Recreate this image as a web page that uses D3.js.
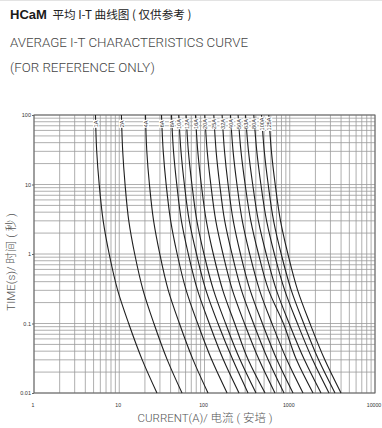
<!DOCTYPE html>
<html><head><meta charset="utf-8">
<script src="https://cdn.jsdelivr.net/npm/d3@7"></script>
<style>body{margin:0;background:#fff}svg{display:block}</style>
</head><body><svg id="c" width="382" height="428"></svg>
<script>
const ratings = ["1A","2A","4A","6A","8A","10A","12A","16A","20A","25A","32A","40A","50A","63A","80A","100A","125A"];
const times = [100, 30, 10, 3, 1, 0.3, 0.1, 0.03, 0.01];
const currents = [
  [5.26, 5.44, 5.82, 6.48, 7.62, 9.59, 12.9, 18.6, 27.7],
  [10.6, 10.98, 11.7, 12.94, 15.18, 19.05, 25.5, 36.6, 54.5],
  [20.3, 21.05, 22.6, 25.3, 29.9, 37.6, 50.8, 73.5, 110],
  [31.3, 32.8, 35.5, 40.1, 47.8, 61.0, 83.2, 121.5, 184],
  [41.0, 43.3, 47.3, 53.6, 64.6, 83.0, 113.8, 166.6, 254],
  [49.9, 53.0, 58.1, 66.3, 80.6, 104.1, 143.9, 215, 324],
  [60.8, 64.7, 71.2, 81.4, 98.6, 127.8, 176.8, 261.6, 402],
  [78.4, 83.4, 91.7, 105, 126.8, 164, 226, 325.5, 513],
  [100.8, 107.6, 118.6, 135.7, 164.8, 213, 294.6, 437, 671],
  [128.6, 136.9, 150.8, 172.6, 210.2, 271.6, 375.7, 557.4, 856],
  [160.9, 171.7, 189.1, 217.6, 264.4, 343.6, 477.8, 708.3, 1092],
  [201.8, 216.5, 240.2, 277.6, 339, 442.9, 618.5, 924.4, 1430],
  [247.8, 268, 299.8, 349.2, 429.9, 566.3, 843.3, 1200, 1874],
  [302.6, 328.2, 367.7, 428.8, 529.4, 699.1, 985, 1486, 2326],
  [378.7, 410.7, 458.8, 535.2, 660.7, 873.5, 1231, 1855, 2886],
  [466.3, 502.9, 558.8, 646.5, 793.8, 1043, 1458, 2180, 3394],
  [567.9, 609.4, 675, 778.9, 951.3, 1239, 1728, 2578, 3993]
];
const xTicks = [1, 10, 100, 1000, 10000];
const xTickLabels = ["1", "10", "100", "1000", "10000"];
const yTicks = [100, 10, 1, 0.1, 0.01];
const yTickLabels = ["100", "10", "1", "0.1", "0.01"];

const svg = d3.select("#c");
const L = 34, R = 375, T = 115, B = 393;
const x = d3.scaleLog().domain([1, 10000]).range([L, R]);
const y = d3.scaleLog().domain([0.01, 100]).range([B, T]);

// top separator line
svg.append("line").attr("x1",0).attr("x2",382).attr("y1",0.5).attr("y2",0.5)
  .attr("stroke","#e3e3e3").attr("stroke-width",1);

// titles
const t1 = svg.append("text").attr("x",10).attr("y",19).attr("fill","#1a1a1a");
t1.append("tspan").text("HCaM").attr("font-family","Liberation Sans, Arial, sans-serif")
  .attr("font-weight","bold").attr("font-size",13);
t1.append("tspan").text(" 平均 I-T 曲线图 ( 仅供参考 )").attr("dx",3)
  .attr("font-family","Noto Sans CJK SC, sans-serif").attr("font-size",11.6).attr("fill","#222");
svg.append("text").attr("x",10).attr("y",47).text("AVERAGE I-T CHARACTERISTICS CURVE")
  .attr("font-family","Roboto, sans-serif").attr("font-weight",300).attr("font-size",13.3).attr("fill","#444");
svg.append("text").attr("x",10).attr("y",72).text("(FOR REFERENCE ONLY)")
  .attr("font-family","Roboto, sans-serif").attr("font-weight",300).attr("font-size",13.3).attr("fill","#444");

// grid
const g = svg.append("g");
g.selectAll("line.vx").data(x.ticks()).join("line").attr("class","vx")
  .attr("x1",d=>x(d)).attr("x2",d=>x(d)).attr("y1",T).attr("y2",B)
  .attr("stroke","#9a9a9a").attr("stroke-width",0.8);
g.selectAll("line.hy").data(y.ticks()).join("line").attr("class","hy")
  .attr("y1",d=>y(d)).attr("y2",d=>y(d)).attr("x1",L).attr("x2",R)
  .attr("stroke","#9a9a9a").attr("stroke-width",0.8);
g.append("rect").attr("x",L).attr("y",T).attr("width",R-L).attr("height",B-T)
  .attr("fill","none").attr("stroke","#666").attr("stroke-width",1);

// axes
const xa = d3.axisBottom(x).tickValues(xTicks).tickSize(0).tickPadding(10)
  .tickFormat((d,i)=>xTickLabels[i]);
svg.append("g").attr("transform",`translate(0,${B})`).call(xa)
  .call(s=>s.select(".domain").remove())
  .selectAll("text").attr("dx",-1.5).attr("font-family","Liberation Sans, Arial, sans-serif").attr("font-size",5.2).attr("fill","#333");
const ya = d3.axisLeft(y).tickValues(yTicks).tickSize(2).tickPadding(1)
  .tickFormat((d,i)=>yTickLabels[i]);
svg.append("g").attr("transform",`translate(${L},0)`).call(ya)
  .call(s=>s.select(".domain").remove())
  .call(s=>s.selectAll("line").attr("stroke","#666"))
  .selectAll("text").attr("font-family","Liberation Sans, Arial, sans-serif").attr("font-size",5.5).attr("fill","#333");

// curves
const line = d3.line().x(d=>x(d[0])).y(d=>y(d[1])).curve(d3.curveMonotoneY);
currents.forEach((arr,i)=>{
  const pts = arr.map((c,k)=>[c, times[k]]);
  svg.append("path").attr("d",line(pts)).attr("fill","none")
    .attr("stroke","#1f1f1f").attr("stroke-width",1.1);
});

// curve labels
currents.forEach((arr,i)=>{
  const cx = x(arr[0]) + 0.5, cy = 124;
  const gg = svg.append("g").attr("transform",`translate(${cx},${cy}) rotate(-90)`);
  const tx = gg.append("text").text(ratings[i]).attr("text-anchor","middle").attr("dy","0.35em")
    .attr("font-family","Liberation Sans, Arial, sans-serif").attr("font-size",5.5).attr("fill","#333");
  const bb = tx.node().getBBox();
  gg.insert("rect","text").attr("x",bb.x-0.5).attr("y",bb.y).attr("width",bb.width+1).attr("height",bb.height)
    .attr("fill","#fff");
});

// axis titles
svg.append("text").attr("x",205).attr("y",422).attr("text-anchor","middle")
  .text("CURRENT(A)/ 电流 ( 安培 )").attr("font-family","Roboto, Noto Sans CJK SC, sans-serif")
  .attr("font-weight",300).attr("font-size",11.5).attr("fill","#555");
svg.append("text").attr("transform","translate(15,262) rotate(-90)").attr("text-anchor","middle")
  .text("TIME(s)/ 时间 ( 秒 )").attr("font-family","Roboto, Noto Sans CJK SC, sans-serif")
  .attr("font-weight",300).attr("font-size",11.5).attr("fill","#555");
</script></body></html>
